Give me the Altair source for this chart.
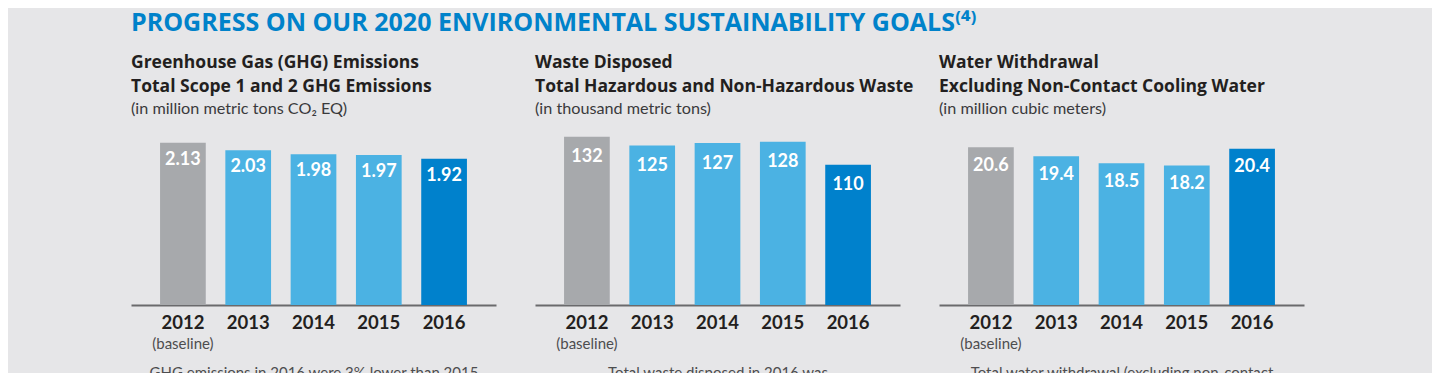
import altair as alt
import pandas as pd

years = ["2012", "2013", "2014", "2015", "2016"]
ghg = [2.13, 2.03, 1.98, 1.97, 1.92]
waste = [132, 125, 127, 128, 110]
water = [20.6, 19.4, 18.5, 18.2, 20.4]
notes = ["(baseline)", "", "", "", ""]
bar_colors = ["#a7a9ac", "#4bb2e3", "#4bb2e3", "#4bb2e3", "#0081cc"]

FONT = "Lato"
BOLD_TITLE_FONT = "Open Sans"
W, H = 365, 170


def panel(values, fmt, ymax, title_lines, subtitle, note, label_dy):
    df = pd.DataFrame({"year": years, "value": values, "note": notes})
    df["label"] = [format(v, fmt) for v in values]
    x = alt.X("year:N", sort=years,
              scale=alt.Scale(paddingInner=0.3, paddingOuter=0.445),
              axis=alt.Axis(title=note, labelAngle=0, ticks=False,
                            domainColor="#6a6a6c", domainWidth=2,
                            labelFont=FONT, labelFontWeight="bold",
                            labelFontSize=18.5, labelColor="#231f20",
                            labelPadding=8,
                            titleFont=FONT, titleFontWeight="normal",
                            titleFontSize=15, titleColor="#4d4d4f",
                            titlePadding=34))
    y = alt.Y("value:Q", scale=alt.Scale(domain=[0, ymax], nice=False), axis=None)
    base = alt.Chart(df)
    bars = base.mark_bar().encode(
        x=x, y=y,
        color=alt.Color("year:N", scale=alt.Scale(domain=years, range=bar_colors), legend=None),
    )
    labels = base.mark_text(font=FONT, fontWeight="bold", fontSize=18, color="white",
                            baseline="middle", dy=label_dy).encode(
        x=alt.X("year:N", sort=years), y=alt.Y("value:Q"), text="label:N")
    base_note = base.mark_text(font=FONT, fontSize=15, color="#4d4d4f",
                               baseline="alphabetic", dy=44).encode(
        x=alt.X("year:N", sort=years), y=alt.datum(0), text="note:N")
    return alt.layer(bars, labels, base_note).properties(
        width=W, height=H,
        title=alt.TitleParams(text=title_lines, subtitle=subtitle, anchor="start",
                              font=BOLD_TITLE_FONT, fontSize=17.5, fontWeight="bold",
                              color="#231f20", lineHeight=24,
                              subtitleFont=FONT, subtitleFontSize=16.2,
                              subtitleFontWeight="normal", subtitleColor="#3a3a3c",
                              subtitlePadding=5, offset=18),
    )


c1 = panel(ghg, ".2f", 2.231,
           ["Greenhouse Gas (GHG) Emissions", "Total Scope 1 and 2 GHG Emissions"],
           "(in million metric tons CO₂ EQ)",
           "GHG emissions in 2016 were 3% lower than 2015", 17)
c2 = panel(waste, "d", 133.3,
           ["Waste Disposed", "Total Hazardous and Non-Hazardous Waste"],
           "(in thousand metric tons)",
           "Total waste disposed in 2016 was", 20.5)
c3 = panel(water, ".1f", 22.19,
           ["Water Withdrawal", "Excluding Non-Contact Cooling Water"],
           "(in million cubic meters)",
           "Total water withdrawal (excluding non-contact", 18.7)

chart = alt.hconcat(
    c1, c2, c3, spacing=39, bounds="flush",
    title=alt.TitleParams(text="PROGRESS ON OUR 2020 ENVIRONMENTAL SUSTAINABILITY GOALS⁽⁴⁾",
                          anchor="start", font=BOLD_TITLE_FONT, fontSize=25, fontWeight="bold",
                          color="#0082ca", offset=18),
    padding={"left": 123, "top": 3, "right": 128, "bottom": 5},
).configure(background="#e6e6e8", view=alt.ViewConfig(stroke=None))

chart.save("out.html", embed_options={"renderer": "svg", "actions": False})
